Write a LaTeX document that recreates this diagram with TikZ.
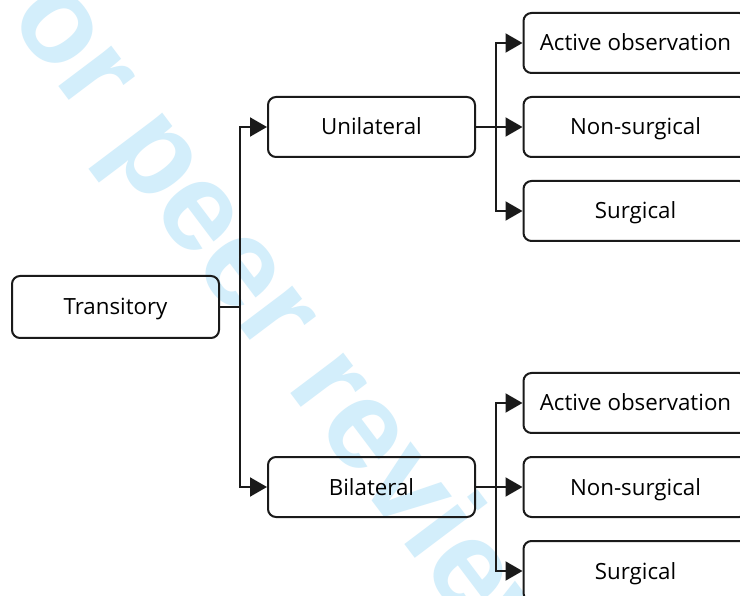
\documentclass[tikz,border=0pt]{standalone}
\usepackage{fontspec}
\setmainfont{Open Sans}
\newfontfamily\wmfont{Liberation Sans}
\usetikzlibrary{arrows.meta}
\definecolor{wmblue}{HTML}{D3EEFB}
\definecolor{ink}{HTML}{1A1A1A}
\begin{document}
\begin{tikzpicture}[x=1pt,y=-1pt,
  box/.style={draw=ink, line width=2pt, rounded corners=8pt,
    minimum height=60pt, inner sep=0pt, text height=16pt, text depth=0pt,
    font=\fontsize{22.3}{26}\selectfont},
  midbox/.style={box, minimum width=207pt},
  leafbox/.style={box, minimum width=224pt},
  link/.style={draw=ink, line width=2pt, line join=miter,
    -{Triangle[length=17pt,width=19pt]}},
  stamp/.style={text=wmblue, inner sep=0pt, anchor=base west, rotate=-53,
    font=\wmfont\bfseries\fontsize{126}{126}\selectfont}]
\useasboundingbox (0,0) rectangle (740,596);
\clip (0,0) rectangle (740,596);
\fill[white] (0,0) rectangle (740,596);

% watermark behind the chart
\node[stamp] (wm) at (-39,-44) {For peer review};

% boxes
\node[box, minimum width=207pt, minimum height=62pt] (tr) at (115.5,307) {Transitory};
\node[midbox] (uni) at (371.5,127) {Unilateral};
\node[midbox] (bil) at (371.5,487) {Bilateral};

\node[leafbox] (ua) at (635.5,43)  {Active observation};
\node[leafbox] (un) at (635.5,127) {Non-surgical};
\node[leafbox] (us) at (635.5,211) {Surgical};

\node[leafbox] (ba) at (635.5,403) {Active observation};
\node[leafbox] (bn) at (635.5,487) {Non-surgical};
\node[leafbox] (bs) at (635.5,571) {Surgical};

% connectors
\draw[link] (tr.east) -- ++(19.5,0) |- (uni.west);
\draw[link] (tr.east) -- ++(19.5,0) |- (bil.west);

\draw[link] (uni.east) -- ++(20,0) |- (ua.west);
\draw[link] (uni.east) -- (un.west);
\draw[link] (uni.east) -- ++(20,0) |- (us.west);

\draw[link] (bil.east) -- ++(20,0) |- (ba.west);
\draw[link] (bil.east) -- (bn.west);
\draw[link] (bil.east) -- ++(20,0) |- (bs.west);
\end{tikzpicture}
\end{document}
